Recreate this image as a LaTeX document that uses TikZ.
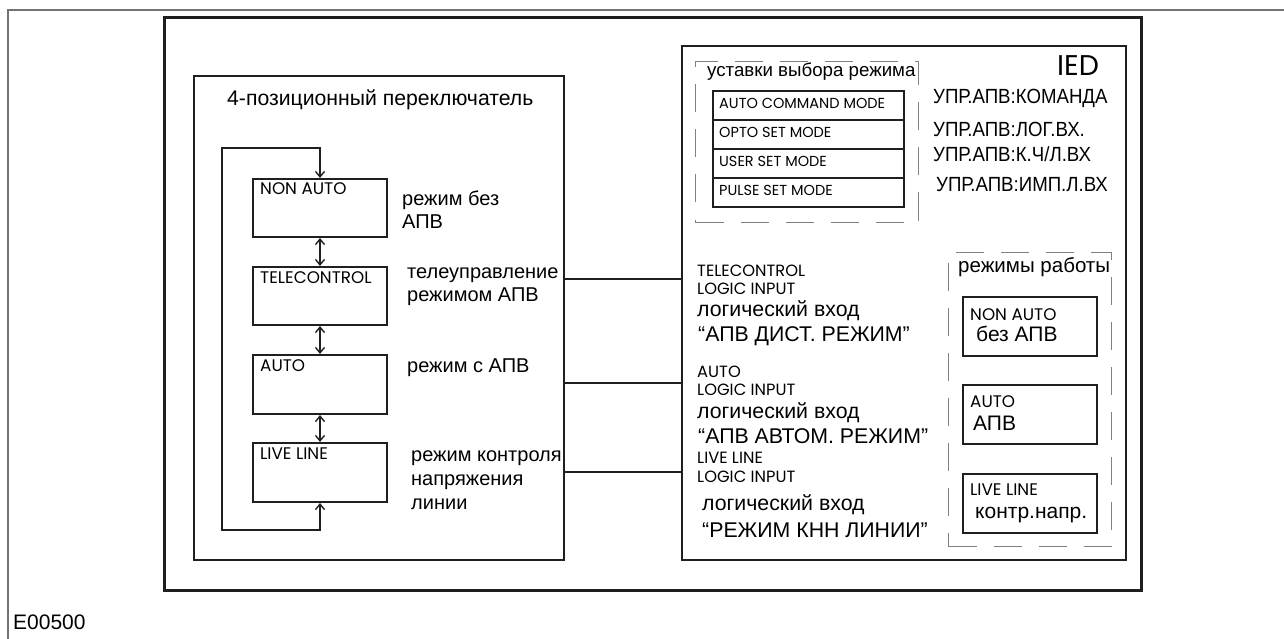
\documentclass[tikz,border=0pt]{standalone}
\usepackage{fontspec}
\setmainfont{Liberation Sans}
\newfontfamily\geo{Poppins}
\newfontfamily\narrowf[FakeStretch=0.91]{Liberation Sans}
\usetikzlibrary{arrows.meta}
\begin{document}
\begin{tikzpicture}[x=1pt,y=-1pt,
  frameline/.style={draw=black!55,line width=1.2pt},
  rbox/.style={draw=black!88,line width=2pt,inner sep=0pt,anchor=north west},
  dbox/.style={draw=black!50,line width=1pt,dash pattern=on 28pt off 17pt},
  ru/.style={anchor=base west,inner sep=0pt,font=\fontsize{20}{22}\selectfont},
  rum/.style={anchor=base west,inner sep=0pt,font=\fontsize{21.3}{22}\selectfont},
  rub/.style={anchor=base west,inner sep=0pt,font=\fontsize{21}{22}\selectfont},
  lat/.style={anchor=base west,inner sep=0pt,font=\geo\fontsize{16.8}{18}\selectfont},
  latm/.style={anchor=base west,inner sep=0pt,font=\geo\fontsize{16.3}{17}\selectfont},
  lats/.style={anchor=base west,inner sep=0pt,font=\geo\fontsize{14.5}{16}\selectfont},
  upr/.style={anchor=base west,inner sep=0pt,font=\narrowf\fontsize{20.5}{22}\selectfont},
  conn/.style={draw=black!88,line width=1.6pt},
  arr/.style={draw=black!88,line width=1.4pt,{Straight Barb[length=5.5pt,width=9pt]}-{Straight Barb[length=5.5pt,width=9pt]}}
]
\useasboundingbox (0,0) rectangle (1284,639);
% outer frame
\draw[frameline] (1284,10) -- (8,10) -- (8,639);
\node[anchor=base west,inner sep=0pt,font=\fontsize{21}{22}\selectfont] (code) at (13,629) {E00500};
% thick box
\node[rbox,line width=3pt,minimum width=977pt,minimum height=573pt] (outer) at (163,16) {};
% switch box
\node[rbox,line width=2.4pt,minimum width=370pt,minimum height=484pt] (sw) at (193,75) {};
\node[anchor=base west,inner sep=0pt,font=\fontsize{21.2}{22}\selectfont] (swt) at (227,106) {4-позиционный переключатель};
% positions
\node[rbox,minimum width=134pt,minimum height=58pt] (na) at (252,178) {};
\node[rbox,minimum width=134pt,minimum height=58pt] (tc) at (252,266) {};
\node[rbox,minimum width=134pt,minimum height=59pt] (au) at (252,354) {};
\node[rbox,minimum width=134pt,minimum height=59pt] (ll) at (252,442) {};
\node[lat] (nal) at (260,195) {NON AUTO};
\node[lat] (tcl) at (260,283) {TELECONTROL};
\node[lat] (aul) at (260,371) {AUTO};
\node[lat] (lll) at (260,459) {LIVE LINE};
\draw[arr] (na.south) -- (tc.north);
\draw[arr] (tc.south) -- (au.north);
\draw[arr] (au.south) -- (ll.north);
\coordinate (lpb) at (222,530);
\coordinate (lpt) at (222,148);
\draw[arr] (ll.south) |- (lpb) -- (lpt) -| (na.north);
% descriptions
\node[ru] (d1a) at (402,205) {режим без};
\node[ru] (d1b) at (402,228) {АПВ};
\node[ru] (d2a) at (407,278) {телеуправление};
\node[ru] (d2b) at (407,301) {режимом АПВ};
\node[ru] (d3) at (407,372) {режим с АПВ};
\node[ru] (d4a) at (411,461) {режим контроля};
\node[ru] (d4b) at (411,485) {напряжения};
\node[ru] (d4c) at (411,509) {линии};
% IED box
\node[rbox,line width=1.8pt,minimum width=444pt,minimum height=514pt] (ied) at (681,45) {};
\node[anchor=base west,inner sep=0pt,font=\geo\fontsize{28.5}{30}\selectfont] (iedt) at (1057,76) {IED};
% settings dashed box
\node[rbox,dbox,minimum width=223pt,minimum height=161pt] (setb) at (695,61) {};
\node[anchor=base west,inner sep=0pt,font=\fontsize{18.7}{20}\selectfont] (sett) at (707,77) {уставки выбора режима};
\node[rbox,minimum width=191pt,minimum height=29pt] (r1) at (712,90) {};
\node[rbox,minimum width=191pt,minimum height=29pt] (r2) at (712,119) {};
\node[rbox,minimum width=191pt,minimum height=29pt] (r3) at (712,148) {};
\node[rbox,minimum width=191pt,minimum height=29pt] (r4) at (712,177) {};
\node[lats] (r1t) at (719,109) {AUTO COMMAND MODE};
\node[lats] (r2t) at (719,138) {OPTO SET MODE};
\node[lats] (r3t) at (719,167) {USER SET MODE};
\node[lats] (r4t) at (719,196) {PULSE SET MODE};
% UPR texts
\node[upr] (u1) at (933,104) {УПР.АПВ:КОМАНДА};
\node[upr] (u2) at (933,137) {УПР.АПВ:ЛОГ.ВХ.};
\node[upr] (u3) at (933,162) {УПР.АПВ:К.Ч/Л.ВХ};
\node[upr] (u4) at (936,192) {УПР.АПВ:ИМП.Л.ВХ};
% logic inputs
\node[latm] (i1a) at (697,276) {TELECONTROL};
\node[latm] (i1b) at (697,294) {LOGIC INPUT};
\node[rum] (i1c) at (697,316) {логический вход};
\node[rum] (i1d) at (698,341) {“АПВ ДИСТ. РЕЖИМ”};
\node[latm] (i2a) at (697,377) {AUTO};
\node[latm] (i2b) at (697,395) {LOGIC INPUT};
\node[rum] (i2c) at (697,418) {логический вход};
\node[rum] (i2d) at (698,443) {“АПВ АВТОМ. РЕЖИМ”};
\node[latm] (i3a) at (697,463) {LIVE LINE};
\node[latm] (i3b) at (697,482) {LOGIC INPUT};
\node[rum] (i3c) at (702,510) {логический вход};
\node[rum] (i3d) at (702,537) {“РЕЖИМ КНН ЛИНИИ”};
% connectors
\coordinate (y1) at (0,279);
\coordinate (y2) at (0,383);
\coordinate (y3) at (0,472);
\draw[conn] (sw.east |- y1) -- (ied.west |- y1);
\draw[conn] (sw.east |- y2) -- (ied.west |- y2);
\draw[conn] (sw.east |- y3) -- (ied.west |- y3);
% operating modes dashed box
\node[rbox,dbox,minimum width=163pt,minimum height=294pt] (modb) at (948,252) {};
\node[anchor=base west,inner sep=0pt,font=\fontsize{20.5}{22}\selectfont] (modt) at (958,272) {режимы работы};
\node[rbox,minimum width=134pt,minimum height=59pt] (m1) at (962,296) {};
\node[rbox,minimum width=134pt,minimum height=59pt] (m2) at (962,384) {};
\node[rbox,minimum width=134pt,minimum height=59pt] (m3) at (962,473) {};
\node[lat] (m1a) at (970,320) {NON AUTO};
\node[rub] (m1b) at (976,341) {без АПВ};
\node[lat] (m2a) at (970,407) {AUTO};
\node[rub] (m2b) at (973,430) {АПВ};
\node[lat] (m3a) at (970,495) {LIVE LINE};
\node[rub] (m3b) at (975,518) {контр.напр.};
\end{tikzpicture}
\end{document}
